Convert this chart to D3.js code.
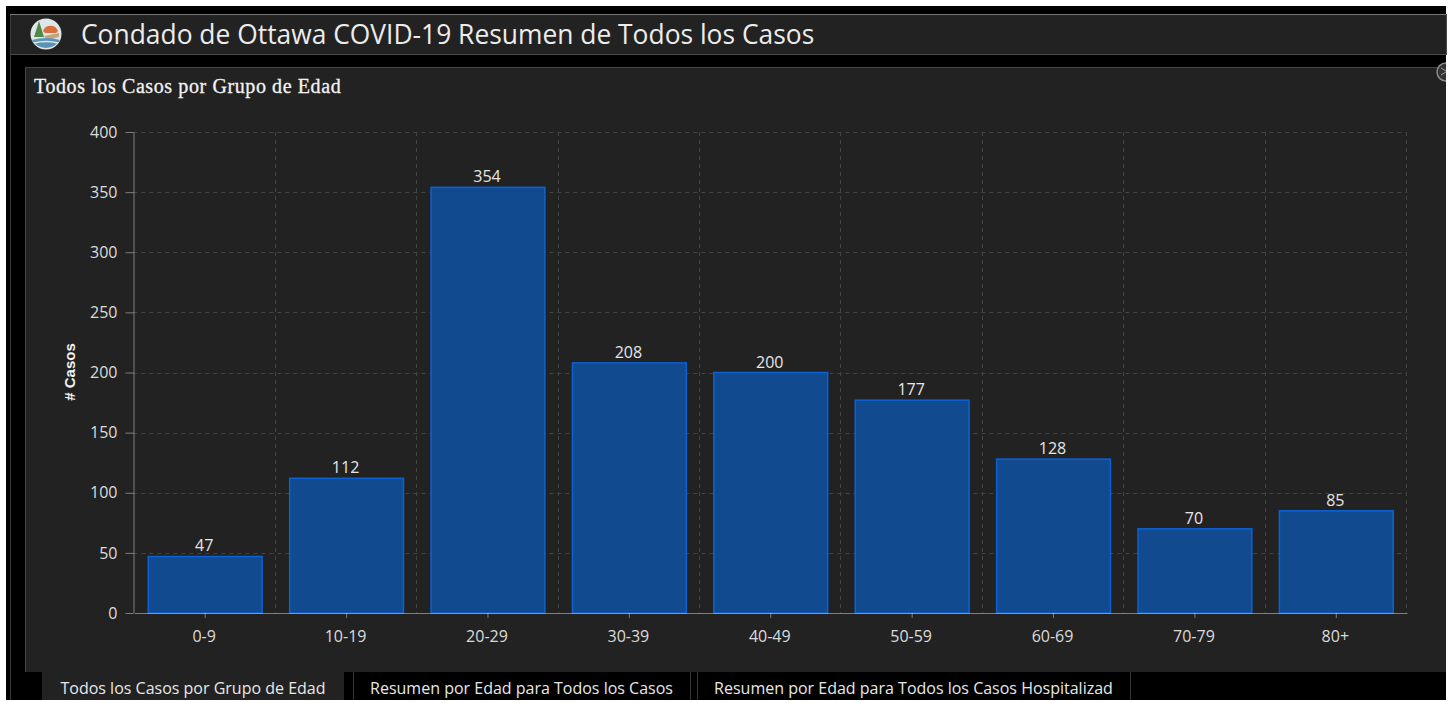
<!DOCTYPE html>
<html lang="es">
<head>
    <meta charset="UTF-8">
    <title>Condado de Ottawa COVID-19</title>
    <style>
        html, body { margin: 0; padding: 0; background: #ffffff; overflow: hidden; }
        svg { display: block; }
        .axis text { font-family: "Open Sans", "Noto Sans", sans-serif; font-size: 16px; fill: #dcdcdc; }
        .value-label { font-family: "Open Sans", "Noto Sans", sans-serif; font-size: 16px; fill: #e6e6e6; text-anchor: middle; }
        .tab-label { font-family: "Open Sans", "Noto Sans", sans-serif; font-size: 16px; fill: #e8e8e8; text-anchor: middle; }
    </style>
</head>
<body>
<svg id="chart" width="1452" height="702"></svg>
<script src="https://d3js.org/d3.v7.min.js"></script>
<script>
    const ageGroups = ["0-9", "10-19", "20-29", "30-39", "40-49", "50-59", "60-69", "70-79", "80+"];
    const caseCounts = [47, 112, 354, 208, 200, 177, 128, 70, 85];
    const yTicks = [0, 50, 100, 150, 200, 250, 300, 350, 400];
    const tabNames = [
        "Todos los Casos por Grupo de Edad",
        "Resumen por Edad para Todos los Casos",
        "Resumen por Edad para Todos los Casos Hospitalizad"
    ];
    const tabEdges = [[42, 344], [353, 690], [697, 1130]];

    const svg = d3.select("#chart");

    // page frame
    svg.append("rect").attr("x", 6).attr("y", 6).attr("width", 1440).attr("height", 694).attr("fill", "#000");
    svg.append("rect").attr("x", 10.5).attr("y", 14.5).attr("width", 1436).attr("height", 40)
        .attr("fill", "#222").attr("stroke", "#4a4a4a");
    svg.append("line").attr("x1", 10.5).attr("x2", 10.5).attr("y1", 14).attr("y2", 700).attr("stroke", "#3a3a3a");
    svg.append("line").attr("x1", 10).attr("x2", 1446).attr("y1", 14.5).attr("y2", 14.5).attr("stroke", "#777");

    // logo
    const logo = svg.append("g").attr("transform", "translate(46,34)");
    logo.append("circle").attr("r", 15.5).attr("fill", "#dfe6ea");
    logo.append("path").attr("d", "M-3,-3 A8,8 0 0 1 12,-3 L10,-1 L-1,-1Z").attr("fill", "#d9713a");
    logo.append("path").attr("d", "M-7,-13 L-2,3 L-12,3Z").attr("fill", "#4f8a45");
    logo.append("path").attr("d", "M-2,2 L13,-1 L13,3 L1,6Z").attr("fill", "#c9a27c");
    logo.append("path").attr("d", "M-14,6 Q0,2 14,6 Q10,13 0,14 Q-10,13 -14,6Z").attr("fill", "#5b93b5");
    logo.append("path").attr("d", "M-12,9 Q0,6 12,9").attr("fill", "none").attr("stroke", "#dfe6ea").attr("stroke-width", 1.5);

    svg.append("text").attr("x", 81).attr("y", 44)
        .attr("font-family", "'Open Sans', 'Noto Sans', sans-serif").attr("font-size", 26.4).attr("fill", "#ececec")
        .text("Condado de Ottawa COVID-19 Resumen de Todos los Casos");

    // panel
    svg.append("rect").attr("x", 25).attr("y", 67).attr("width", 1421).attr("height", 605)
        .attr("fill", "#222");
    svg.append("path").attr("d", "M25.5,672V67.5H1446").attr("fill", "none").attr("stroke", "#444");
    svg.append("text").attr("x", 34).attr("y", 93)
        .attr("font-family", "'Liberation Serif', serif").attr("font-size", 20).attr("font-weight", 400)
        .attr("letter-spacing", 0.6)
        .attr("stroke", "#f2f2f2").attr("stroke-width", 0.3).attr("fill", "#f2f2f2")
        .text("Todos los Casos por Grupo de Edad");

    // small collapse button, cut off by the page edge
    const btnClip = svg.append("clipPath").attr("id", "btn-clip");
    btnClip.append("rect").attr("x", 1400).attr("y", 55).attr("width", 46).attr("height", 40);
    const btn = svg.append("g").attr("clip-path", "url(#btn-clip)");
    btn.append("circle").attr("cx", 1446).attr("cy", 72).attr("r", 9)
        .attr("fill", "#333").attr("stroke", "#8a8a8a").attr("stroke-width", 1.5);
    btn.append("path").attr("d", "M1441,68L1446,71M1441,75L1446,72").attr("stroke", "#999").attr("fill", "none");

    // plot
    const plot = { left: 133.5, right: 1407, top: 132, bottom: 613 };

    const x = d3.scaleBand().domain(ageGroups).range([plot.left + 1, plot.right]).paddingInner(0.195).paddingOuter(0.0975);
    const y = d3.scaleLinear().domain([0, 400]).range([plot.bottom, plot.top]);

    const step = x.step();
    const grid = svg.append("g").attr("stroke", "#444").attr("stroke-dasharray", "4,4");
    grid.selectAll(".h").data(yTicks.filter(d => d > 0)).enter().append("line")
        .attr("x1", plot.left).attr("x2", plot.right)
        .attr("y1", d => Math.round(y(d)) + 0.5).attr("y2", d => Math.round(y(d)) + 0.5);
    grid.selectAll(".v").data(ageGroups).enter().append("line")
        .attr("x1", (d, i) => Math.round(plot.left + step * (i + 1)) + 0.5)
        .attr("x2", (d, i) => Math.round(plot.left + step * (i + 1)) + 0.5)
        .attr("y1", plot.top).attr("y2", plot.bottom);

    svg.selectAll(".bar").data(caseCounts).enter().append("rect")
        .attr("class", "bar")
        .attr("x", (d, i) => x(ageGroups[i]))
        .attr("y", d => y(d))
        .attr("width", x.bandwidth())
        .attr("height", d => plot.bottom - y(d))
        .attr("fill", "#114a8f")
        .attr("stroke", "#0a63d6")
        .attr("stroke-width", 1.5);

    svg.selectAll(".value-label").data(caseCounts).enter().append("text")
        .attr("class", "value-label")
        .attr("x", (d, i) => x(ageGroups[i]) + x.bandwidth() / 2 - 1)
        .attr("y", d => y(d) - 5)
        .text(d => d);

    const yAxis = svg.append("g").attr("class", "axis")
        .attr("transform", `translate(${plot.left},0)`)
        .call(d3.axisLeft(y).tickValues(yTicks).tickSize(8).tickSizeOuter(0).tickPadding(8));
    const xAxis = svg.append("g").attr("class", "axis")
        .attr("transform", `translate(0,${plot.bottom})`)
        .call(d3.axisBottom(x).tickSize(5).tickSizeOuter(0).tickPadding(13));
    xAxis.selectAll("text").attr("dx", -1);
    [yAxis, xAxis].forEach(a => {
        a.selectAll("path").attr("stroke", "rgba(255,255,255,0.42)");
        a.selectAll("line").attr("stroke", "rgba(255,255,255,0.42)");
    });

    svg.append("text")
        .attr("transform", "translate(75,372) rotate(-90)")
        .attr("text-anchor", "middle")
        .attr("font-family", "'Liberation Sans', sans-serif").attr("font-size", 15).attr("font-weight", 700).attr("fill", "#f2f2f2")
        .text("# Casos");

    // tabs under the panel
    svg.append("rect").attr("x", tabEdges[0][0]).attr("y", 672).attr("width", tabEdges[0][1] - tabEdges[0][0]).attr("height", 28).attr("fill", "#222");
    svg.selectAll(".tab-edge").data(tabEdges.slice(1)).enter().append("path")
        .attr("d", d => `M${d[0] + 0.5},672V700M${d[1] + 0.5},672V700`)
        .attr("stroke", "#333").attr("fill", "none");
    svg.selectAll(".tab-label").data(tabNames).enter().append("text")
        .attr("class", "tab-label")
        .attr("x", (d, i) => (tabEdges[i][0] + tabEdges[i][1]) / 2)
        .attr("y", 694)
        .text(d => d);
</script>
</body>
</html>
